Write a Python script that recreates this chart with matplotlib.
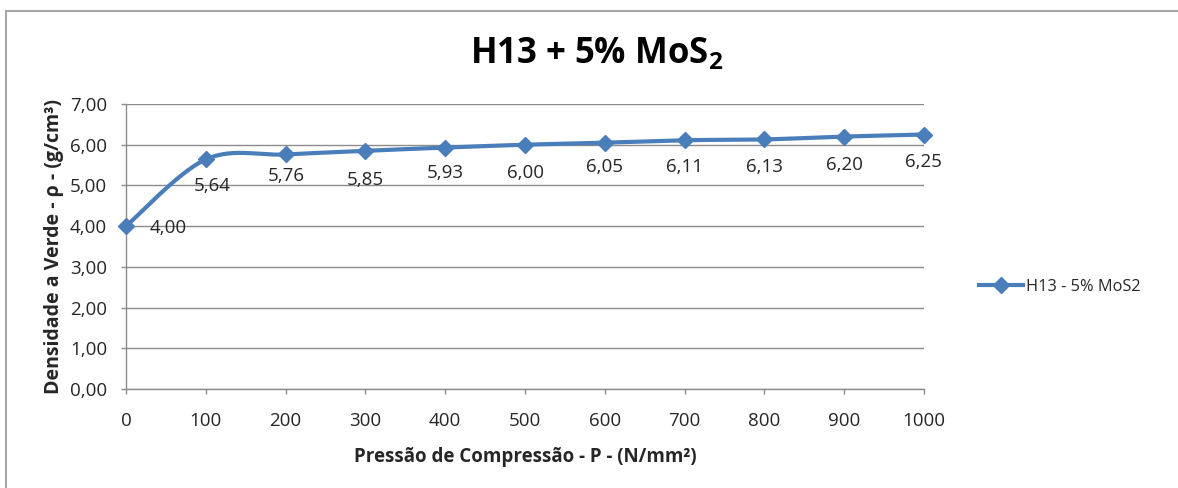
import matplotlib
matplotlib.use('Agg')
import matplotlib.pyplot as plt
from matplotlib.lines import Line2D
import numpy as np

# Data
pressure = [0, 100, 200, 300, 400, 500, 600, 700, 800, 900, 1000]
density = [4.00, 5.64, 5.76, 5.85, 5.93, 6.00, 6.05, 6.11, 6.13, 6.20, 6.25]
y_ticks = [0, 1, 2, 3, 4, 5, 6, 7]
series_name = 'H13 - 5% MoS2'

# label offsets in pixels (dx, dy), as placed in the original
label_dx = [42, 6, 1, 0, 0, 0, 0, 0, 0, 0, -1]
label_dy = [-2, -27, -22, -29, -25, -28, -24, -27, -28, -28, -27]

plt.rcParams['font.family'] = ['Open Sans', 'DejaVu Sans']
plt.rcParams['mathtext.fontset'] = 'custom'
plt.rcParams['mathtext.rm'] = 'Open Sans'
plt.rcParams['mathtext.bf'] = 'Open Sans:bold'

blue = '#4A7EBB'
grid_c = '#8C8C8C'
txt = '#262626'


def smooth(x, y, n=30):
    # Excel-style smoothed line (Catmull-Rom as cubic Bezier)
    x = np.asarray(x, float)
    y = np.asarray(y, float)
    px = np.concatenate([[x[0]], x, [x[-1]]])
    py = np.concatenate([[y[0]], y, [y[-1]]])
    xs, ys = [], []
    t = np.linspace(0, 1, n)
    for i in range(1, len(px) - 2):
        p0 = np.array([px[i], py[i]])
        p3 = np.array([px[i + 1], py[i + 1]])
        c1 = p0 + (np.array([px[i + 1], py[i + 1]]) - np.array([px[i - 1], py[i - 1]])) / 6
        c2 = p3 - (np.array([px[i + 2], py[i + 2]]) - np.array([px[i], py[i]])) / 6
        b = ((1 - t) ** 3)[:, None] * p0 + (3 * (1 - t) ** 2 * t)[:, None] * c1 \
            + (3 * (1 - t) * t ** 2)[:, None] * c2 + (t ** 3)[:, None] * p3
        xs.extend(b[:, 0])
        ys.extend(b[:, 1])
    return xs, ys


fig = plt.figure(figsize=(11.78, 4.88), dpi=100)
ax = fig.add_axes([126 / 1178, 1 - 389 / 488, 798 / 1178, 285 / 488])

sx, sy = smooth(pressure, density)
ax.plot(sx, sy, color=blue, lw=3.0, solid_capstyle='round', zorder=3)
ax.plot(pressure, density, ls='none', marker='D', ms=8.5, color=blue, zorder=4, clip_on=False)

for i, (xv, yv) in enumerate(zip(pressure, density)):
    ax.annotate(f'{yv:.2f}'.replace('.', ','), (xv, yv), xytext=(label_dx[i], label_dy[i]),
                textcoords='offset pixels', ha='center', va='center', fontsize=13.5, color=txt)

ax.set_xlim(0, 1000)
ax.set_ylim(0, 7)
ax.set_xticks(pressure)
ax.set_xticklabels([str(p) for p in pressure])
ax.set_yticks(y_ticks)
ax.set_yticklabels([f'{v:.2f}'.replace('.', ',') for v in y_ticks])
ax.tick_params(axis='both', labelsize=13.5, colors=grid_c, labelcolor=txt, length=3.6, width=1)
ax.tick_params(axis='x', pad=13)
ax.tick_params(axis='y', pad=10)
ax.grid(axis='y', color=grid_c, lw=1)
ax.set_axisbelow(True)
for s in ['top', 'right']:
    ax.spines[s].set_visible(False)
for s in ['left', 'bottom']:
    ax.spines[s].set_color(grid_c)
    ax.spines[s].set_linewidth(1)

ax.set_xlabel('Pressão de Compressão - P - (N/mm²)', fontsize=13.5, fontweight='bold', color=txt, labelpad=12)
ax.set_ylabel('Densidade a Verde - ρ - (g/cm³)', fontsize=14, fontweight='bold', color=txt, labelpad=4)

fig.text(597 / 1178, 1 - 54 / 488, r'H13 + 5% MoS$_{\mathbf{2}}$', ha='center', va='center',
         fontsize=25, fontweight='bold', color='black')

handle = Line2D([], [], color=blue, lw=3.0, marker='D', ms=8.5)
fig.legend([handle], [series_name], loc='center left', bbox_to_anchor=(964 / 1178, 1 - 287 / 488),
           frameon=False, fontsize=11.8, handlelength=2.7, handletextpad=0.18, labelcolor=txt)

# chart border (cropped at right and bottom)
top_y = 1 - 10.5 / 488
left_x = 5.5 / 1178
fig.add_artist(Line2D([left_x, 1.0], [top_y, top_y], transform=fig.transFigure, color='#A6A6A6', lw=1.5))
fig.add_artist(Line2D([left_x, left_x], [0.0, top_y], transform=fig.transFigure, color='#A6A6A6', lw=1.5))

fig.savefig('out.png', dpi=100)
